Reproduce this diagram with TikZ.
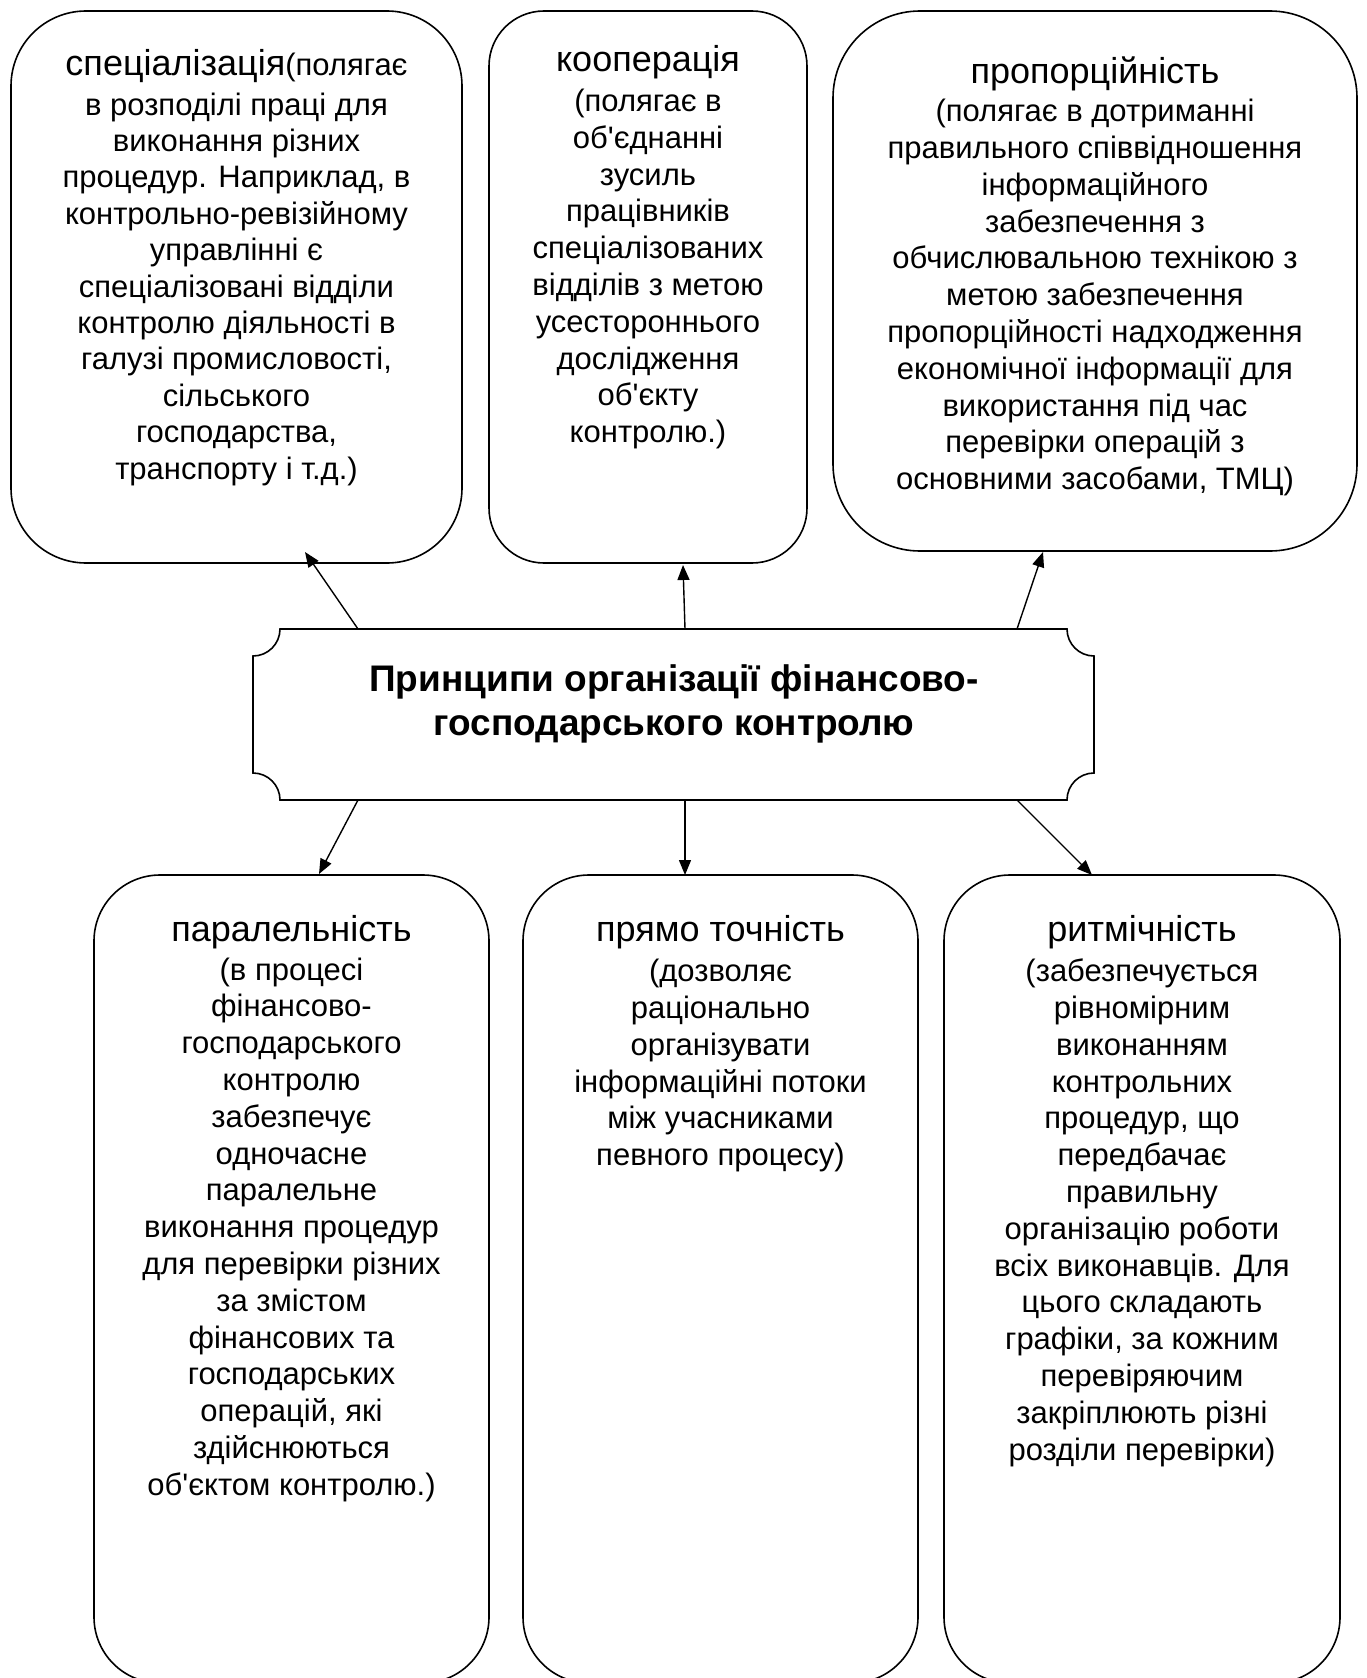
\documentclass[tikz,border=0pt]{standalone}
\usepackage{fontspec}
\setmainfont{Liberation Sans}[Ligatures=TeXOff]
\usetikzlibrary{arrows.meta,calc}
\tikzset{
  pbox/.style={draw, line width=1.6pt, inner sep=0pt, outer sep=0pt, anchor=north west},
  ptext/.style={anchor=north, align=center, inner sep=0pt, font=\fontsize{31}{36.8}\selectfont},
  conn/.style={line width=1.4pt, -{Triangle[length=15pt,width=12pt]}},
}
\newcommand{\ttl}[1]{{\fontsize{36}{40}\selectfont #1}}
\begin{document}
\begin{tikzpicture}[x=1pt,y=1pt]
\useasboundingbox (0,0) rectangle (1367,-1678);
\fill[white] (0,0) rectangle (1367,-1678);
\clip (0,0) rectangle (1367,-1678);

% top boxes
\node[pbox, rounded corners=75pt, minimum width=451pt, minimum height=552pt] (b1) at (11,-11) {};
\node[pbox, rounded corners=55pt, minimum width=318pt, minimum height=552pt] (b2) at (489,-11) {};
\node[pbox, rounded corners=87pt, minimum width=524pt, minimum height=540pt] (b3) at (833,-11) {};
% bottom boxes
\node[pbox, rounded corners=66pt, minimum width=395pt, minimum height=808pt] (b4) at (94,-875) {};
\node[pbox, rounded corners=66pt, minimum width=395pt, minimum height=808pt] (b5) at (523,-875) {};
\node[pbox, rounded corners=66pt, minimum width=396pt, minimum height=808pt] (b6) at (944,-875) {};

% central box
\node[inner sep=0pt, outer sep=0pt, anchor=north west, minimum width=841pt, minimum height=171pt] (c) at (253,-629) {};
\draw[line width=1.6pt]
  ($(c.north west)+(27,0)$) -- ($(c.north east)+(-27,0)$)
  arc[start angle=180,end angle=270,radius=27pt]
  -- ($(c.south east)+(0,27)$)
  arc[start angle=90,end angle=180,radius=27pt]
  -- ($(c.south west)+(27,0)$)
  arc[start angle=0,end angle=90,radius=27pt]
  -- ($(c.north west)+(0,-27)$)
  arc[start angle=-90,end angle=0,radius=27pt]
  -- cycle;
\node[anchor=north, align=center, inner sep=0pt, font=\fontsize{37}{44}\selectfont\bfseries] (tc) at (674,-664)
  {Принципи організації фінансово-\\господарського контролю};

% texts
\node[ptext, font=\fontsize{31}{36.4}\selectfont] (t1) at (236.5,-49) {\ttl{спеціалізація}(полягає\\[3.5pt]
в розподілі праці для\\
виконання різних\\
процедур. Наприклад, в\\
контрольно-ревізійному\\
управлінні є\\
спеціалізовані відділи\\
контролю діяльності в\\
галузі промисловості,\\
сільського\\
господарства,\\
транспорту і т.д.)};

\node[ptext] (t2) at (648,-45) {\ttl{кооперація}\\[3.5pt]
(полягає в\\
об'єднанні\\
зусиль\\
працівників\\
спеціалізованих\\
відділів з метою\\
усестороннього\\
дослідження\\
об'єкту\\
контролю.)};

\node[ptext] (t3) at (1095,-57) {\ttl{пропорційність}\\[1pt]
(полягає в дотриманні\\
правильного співвідношення\\
інформаційного\\
забезпечення з\\
обчислювальною технікою з\\
метою забезпечення\\
пропорційності надходження\\
економічної інформації для\\
використання під час\\
перевірки операцій з\\
основними засобами, ТМЦ)};

\node[ptext] (t4) at (291.5,-915) {\ttl{паралельність}\\[2pt]
(в процесі\\
фінансово-\\
господарського\\
контролю\\
забезпечує\\
одночасне\\
паралельне\\
виконання процедур\\
для перевірки різних\\
за змістом\\
фінансових та\\
господарських\\
операцій, які\\
здійснюються\\
об'єктом контролю.)};

\node[ptext] (t5) at (720.5,-915) {\ttl{прямо точність}\\[3.5pt]
(дозволяє\\
раціонально\\
організувати\\
інформаційні потоки\\
між учасниками\\
певного процесу)};

\node[ptext] (t6) at (1142,-915) {\ttl{ритмічність}\\[3.5pt]
(забезпечується\\
рівномірним\\
виконанням\\
контрольних\\
процедур, що\\
передбачає\\
правильну\\
організацію роботи\\
всіх виконавців. Для\\
цього складають\\
графіки, за кожним\\
перевіряючим\\
закріплюють різні\\
розділи перевірки)};

% connectors
\draw[conn] ($(c.north west)+(105,0)$) -- ($(b1.south west)+(294,11)$);
\draw[conn] ($(c.north west)+(432,0)$) -- ($(b2.south west)+(194,-2)$);
\draw[conn] ($(c.north east)+(-77,0)$) -- ($(b3.south west)+(210,-1)$);
\draw[conn] ($(c.south west)+(105,0)$) -- ($(b4.north west)+(225,1)$);
\draw[conn] ($(c.south west)+(432,0)$) -- ($(b5.north west)+(162,0)$);
\draw[conn] ($(c.south east)+(-77,0)$) -- ($(b6.north west)+(148,0)$);
\end{tikzpicture}
\end{document}
